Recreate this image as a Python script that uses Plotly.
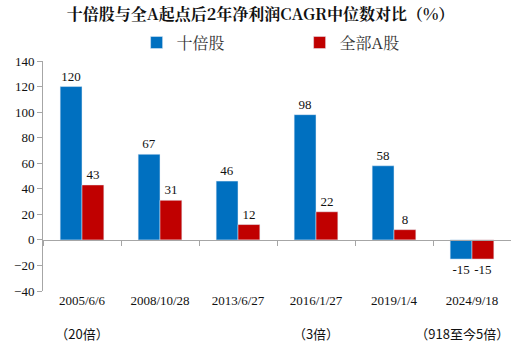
import plotly.graph_objects as go

SANS = "font-family:Noto Sans CJK SC;font-size:13px"
categories = ["2005/6/6<br> <br><span style='%s'>（20倍）</span>" % SANS,
              "2008/10/28", "2013/6/27",
              "2016/1/27<br> <br><span style='%s'>（3倍）</span>" % SANS,
              "2019/1/4",
              "2024/9/18<br> <br><span style='%s'>（918至今5倍）\u3000\u3000\u200b</span>" % SANS]
ten_bagger = [120, 67, 46, 98, 58, -15]
all_a = [43, 31, 12, 22, 8, -15]
y_ticks = [-40, -20, 0, 20, 40, 60, 80, 100, 120, 140]

FONT = "Times New Roman, Liberation Serif, Noto Serif CJK SC, Noto Sans CJK SC"

fig = go.Figure()
fig.add_trace(go.Bar(name="十倍股", x=categories, y=ten_bagger, marker_color="#0070C0",
                     text=ten_bagger, textposition="outside", cliponaxis=False,
                     textfont=dict(family=FONT, size=13, color="#111")))
fig.add_trace(go.Bar(name="全部A股", x=categories, y=all_a, marker_color="#C00000",
                     text=all_a, textposition="outside", cliponaxis=False,
                     textfont=dict(family=FONT, size=13, color="#111")))

fig.update_layout(
    width=511, height=357,
    margin=dict(l=43, r=0, t=61, b=66, autoexpand=False),
    paper_bgcolor="white", plot_bgcolor="white",
    barmode="group", bargap=0.44, bargroupgap=0,
    font=dict(family=FONT, size=13, color="#111"),
    title=dict(text="<b>十倍股与全A起点后2年净利润CAGR中位数对比（%）</b>",
               x=0.465, xanchor="center", xref="paper", y=0.975, yanchor="top",
               font=dict(family="Noto Serif CJK SC, Noto Sans CJK SC", size=16, color="#111")),
    legend=dict(orientation="h", x=0.2, xanchor="left", y=1.08, yanchor="middle",
                entrywidth=118, font=dict(size=16, color="#333"), itemwidth=30,
                bgcolor="rgba(0,0,0,0)"),
    showlegend=True,
)
fig.update_xaxes(showline=False, ticks="", showgrid=False, tickfont=dict(size=13),
                 tickangle=0)
fig.update_yaxes(range=[-40, 140], tickvals=y_ticks, showgrid=False, zeroline=False,
                 showline=True, linecolor="#A6A6A6", linewidth=1,
                 ticks="outside", ticklen=5, tickcolor="#A6A6A6",
                 tickfont=dict(size=13))
# x axis line drawn through zero with boundary ticks
fig.update_layout(xaxis2=dict(overlaying="x", anchor="free", position=40/180, matches="x",
                              showline=True, linecolor="#A6A6A6", ticks="outside",
                              tickson="boundaries", ticklen=5, tickcolor="#A6A6A6",
                              showticklabels=False, showgrid=False))
fig.add_trace(go.Scatter(x=categories, y=[None]*6, xaxis="x2", showlegend=False,
                         hoverinfo="skip"))

fig.write_html("out.html", config={"displayModeBar": False},
               post_script="document.body.style.margin='0';")
